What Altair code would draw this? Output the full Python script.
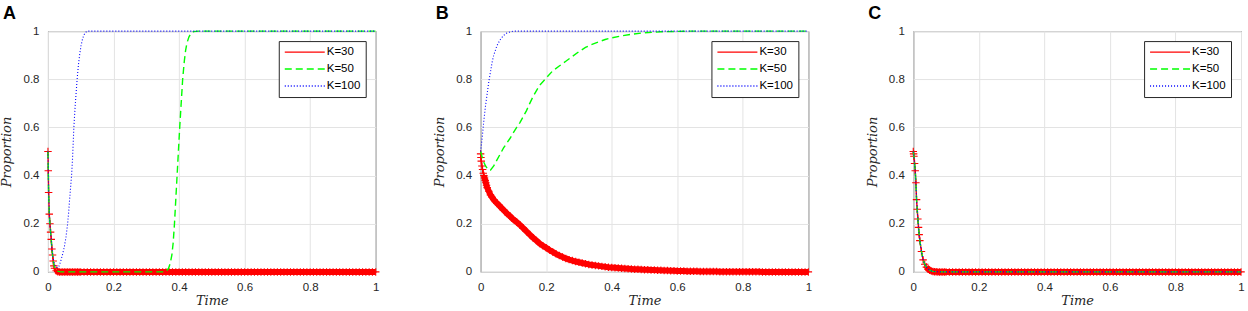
import altair as alt
import pandas as pd

# ---------------- data ----------------
KS = ["K=30", "K=50", "K=100"]
COLORS = ["#ff0000", "#00ff00", "#0000ff"]
DASHES = [[1, 0], [7, 4], [1, 2]]
TICKS = [0, 0.2, 0.4, 0.6, 0.8, 1]

# time points of the K=30 series (one marker per point)
T_RED = [
    0.000, 0.001, 0.002, 0.004, 0.006, 0.008, 0.010, 0.012, 0.014, 0.016,
    0.018, 0.020, 0.025, 0.030, 0.035, 0.040, 0.045, 0.050, 0.055, 0.060,
    0.065, 0.070, 0.075, 0.080, 0.085, 0.090, 0.095, 0.100,
    0.11, 0.12, 0.13, 0.14, 0.15, 0.16, 0.17, 0.18, 0.19, 0.20,
    0.21, 0.22, 0.23, 0.24, 0.25, 0.26, 0.27, 0.28, 0.29, 0.30,
    0.31, 0.32, 0.33, 0.34, 0.35, 0.36, 0.37, 0.38, 0.39, 0.40,
    0.41, 0.42, 0.43, 0.44, 0.45, 0.46, 0.47, 0.48, 0.49, 0.50,
    0.51, 0.52, 0.53, 0.54, 0.55, 0.56, 0.57, 0.58, 0.59, 0.60,
    0.61, 0.62, 0.63, 0.64, 0.65, 0.66, 0.67, 0.68, 0.69, 0.70,
    0.71, 0.72, 0.73, 0.74, 0.75, 0.76, 0.77, 0.78, 0.79, 0.80,
    0.81, 0.82, 0.83, 0.84, 0.85, 0.86, 0.87, 0.88, 0.89, 0.90,
    0.91, 0.92, 0.93, 0.94, 0.95, 0.96, 0.97, 0.98, 0.99, 1.00,
]

A_K30 = [
    0.500, 0.420, 0.330, 0.240, 0.200, 0.165, 0.135, 0.095, 0.070, 0.045,
    0.025, 0.015, 0.005, 0.001, 0, 0, 0, 0, 0, 0,
    0, 0, 0, 0, 0, 0, 0, 0,
    0, 0, 0, 0, 0, 0, 0, 0, 0, 0,
    0, 0, 0, 0, 0, 0, 0, 0, 0, 0,
    0, 0, 0, 0, 0, 0, 0, 0, 0, 0,
    0, 0, 0, 0, 0, 0, 0, 0, 0, 0,
    0, 0, 0, 0, 0, 0, 0, 0, 0, 0,
    0, 0, 0, 0, 0, 0, 0, 0, 0, 0,
    0, 0, 0, 0, 0, 0, 0, 0, 0, 0,
    0, 0, 0, 0, 0, 0, 0, 0, 0, 0,
    0, 0, 0, 0, 0, 0, 0, 0, 0, 0,
]
B_K30 = [
    0.490, 0.475, 0.460, 0.440, 0.425, 0.410, 0.400, 0.390, 0.380, 0.370,
    0.360, 0.350, 0.335, 0.320, 0.310, 0.300, 0.292, 0.285, 0.278, 0.271,
    0.264, 0.257, 0.250, 0.243, 0.237, 0.231, 0.224, 0.218,
    0.207, 0.195, 0.182, 0.168, 0.155, 0.142, 0.130, 0.118, 0.109, 0.100,
    0.091, 0.083, 0.075, 0.068, 0.062, 0.056, 0.051, 0.047, 0.043, 0.040,
    0.037, 0.034, 0.031, 0.029, 0.027, 0.025, 0.023, 0.021, 0.019, 0.018,
    0.017, 0.016, 0.015, 0.014, 0.013, 0.012, 0.011, 0.011, 0.010, 0.009,
    0.009, 0.008, 0.008, 0.007, 0.007, 0.006, 0.006, 0.005, 0.005, 0.004,
    0.004, 0.004, 0.003, 0.003, 0.003, 0.003, 0.002, 0.002, 0.002, 0.002,
    0.002, 0.002, 0.001, 0.001, 0.001, 0.001, 0.001, 0.001, 0.001, 0.001,
    0.001, 0.001, 0.001, 0.001, 0.001, 0, 0, 0, 0, 0,
    0, 0, 0, 0, 0, 0, 0, 0, 0, 0,
]
C_K30 = [
    0.500, 0.490, 0.480, 0.450, 0.420, 0.370, 0.300, 0.260, 0.220, 0.185,
    0.155, 0.130, 0.085, 0.050, 0.032, 0.020, 0.012, 0.007, 0.004, 0.002,
    0.001, 0.001, 0, 0, 0, 0, 0, 0,
    0, 0, 0, 0, 0, 0, 0, 0, 0, 0,
    0, 0, 0, 0, 0, 0, 0, 0, 0, 0,
    0, 0, 0, 0, 0, 0, 0, 0, 0, 0,
    0, 0, 0, 0, 0, 0, 0, 0, 0, 0,
    0, 0, 0, 0, 0, 0, 0, 0, 0, 0,
    0, 0, 0, 0, 0, 0, 0, 0, 0, 0,
    0, 0, 0, 0, 0, 0, 0, 0, 0, 0,
    0, 0, 0, 0, 0, 0, 0, 0, 0, 0,
    0, 0, 0, 0, 0, 0, 0, 0, 0, 0,
]
# time from which the K=30 markers merge into a solid band
BAND_START = {"A": 0.025, "B": 0.010, "C": 0.040}

# K=50 series
A_K50_T = [0, 0.001, 0.002, 0.004, 0.006, 0.008, 0.010, 0.012, 0.014, 0.016,
           0.018, 0.020, 0.025, 0.030, 0.035, 0.040, 0.355, 0.362, 0.368, 0.373,
           0.378, 0.382, 0.386, 0.390, 0.394, 0.398, 0.402, 0.406, 0.411, 0.416,
           0.420, 0.424, 0.430, 0.436, 0.444, 0.460, 1.0]
A_K50_P = [0.500, 0.420, 0.330, 0.240, 0.200, 0.165, 0.135, 0.095, 0.070, 0.045,
           0.030, 0.020, 0.008, 0.003, 0.001, 0, 0, 0.005, 0.015, 0.035,
           0.070, 0.120, 0.200, 0.300, 0.400, 0.500, 0.600, 0.690, 0.800, 0.875,
           0.920, 0.950, 0.975, 0.990, 0.998, 1, 1]
B_K50_T = [0, 0.005, 0.010, 0.015, 0.020, 0.025, 0.030, 0.040, 0.050, 0.060,
           0.070, 0.080, 0.090, 0.100, 0.110, 0.120, 0.130, 0.140, 0.150, 0.160,
           0.170, 0.180, 0.190, 0.200, 0.220, 0.240, 0.260, 0.280, 0.300, 0.320,
           0.340, 0.360, 0.380, 0.400, 0.430, 0.460, 0.500, 0.550, 0.600, 0.650, 1.0]
B_K50_P = [0.500, 0.475, 0.455, 0.440, 0.430, 0.424, 0.422, 0.440, 0.465, 0.490,
           0.515, 0.535, 0.555, 0.578, 0.600, 0.620, 0.645, 0.670, 0.700, 0.728,
           0.752, 0.775, 0.790, 0.805, 0.835, 0.855, 0.875, 0.895, 0.915, 0.932,
           0.945, 0.955, 0.965, 0.972, 0.980, 0.987, 0.993, 0.997, 0.999, 1, 1]
C_K50_T = [0, 0.002, 0.004, 0.006, 0.008, 0.010, 0.012, 0.014, 0.016, 0.018,
           0.020, 0.025, 0.030, 0.035, 0.040, 0.045, 0.050, 0.055, 0.060, 0.070,
           0.080, 1.0]
C_K50_P = [0.500, 0.480, 0.450, 0.420, 0.370, 0.300, 0.260, 0.220, 0.185, 0.155,
           0.130, 0.085, 0.050, 0.032, 0.020, 0.012, 0.007, 0.004, 0.002, 0.001,
           0, 0]

# K=100 series
A_K100_T = [0, 0.001, 0.002, 0.004, 0.006, 0.008, 0.010, 0.012, 0.014, 0.016,
            0.018, 0.020, 0.025, 0.030, 0.035, 0.040, 0.045, 0.050, 0.055, 0.060,
            0.063, 0.066, 0.069, 0.072, 0.075, 0.079, 0.083, 0.086, 0.089, 0.093,
            0.097, 0.101, 0.106, 0.110, 0.115, 0.120, 1.0]
A_K100_P = [0.500, 0.420, 0.340, 0.250, 0.200, 0.165, 0.135, 0.100, 0.075, 0.055,
            0.040, 0.030, 0.020, 0.017, 0.027, 0.050, 0.075, 0.105, 0.145, 0.200,
            0.245, 0.300, 0.350, 0.400, 0.470, 0.600, 0.690, 0.745, 0.800, 0.860,
            0.905, 0.940, 0.970, 0.985, 0.995, 1, 1]
B_K100_T = [0, 0.005, 0.010, 0.015, 0.020, 0.025, 0.030, 0.035, 0.040, 0.050,
            0.060, 0.070, 0.080, 0.090, 0.100, 1.0]
B_K100_P = [0.500, 0.560, 0.630, 0.690, 0.740, 0.790, 0.830, 0.870, 0.900, 0.940,
            0.965, 0.982, 0.992, 0.997, 1, 1]
C_K100_T = [0, 0.002, 0.004, 0.006, 0.008, 0.010, 0.012, 0.014, 0.016, 0.018,
            0.020, 0.025, 0.030, 0.035, 0.040, 0.045, 0.050, 0.055, 0.060, 0.070,
            0.080, 1.0]
C_K100_P = [0.500, 0.480, 0.450, 0.420, 0.370, 0.300, 0.260, 0.220, 0.185, 0.155,
            0.130, 0.085, 0.050, 0.032, 0.020, 0.012, 0.007, 0.004, 0.002, 0.001,
            0, 0]

PANELS = [
    ("A", A_K30, A_K50_T, A_K50_P, A_K100_T, A_K100_P),
    ("B", B_K30, B_K50_T, B_K50_P, B_K100_T, B_K100_P),
    ("C", C_K30, C_K50_T, C_K50_P, C_K100_T, C_K100_P),
]

# ---------------- styling ----------------
LABEL_FONT = "Liberation Sans"
TITLE_FONT = "DejaVu Serif"
PLUS = "M-1,0L1,0M0,-1L0,1"
LEG_LINE = "M-1,0L7,0"


def make_legend():
    return alt.Legend(
        title=None,
        orient="top-right",
        offset=10,
        padding=5,
        fillColor="white",
        strokeColor="#262626",
        labelFont=LABEL_FONT,
        labelFontSize=11.5,
        labelColor="black",
        rowPadding=5,
        symbolType=LEG_LINE,
        symbolSize=100,
        symbolStrokeWidth=1.4,
        labelOffset=31,
    )


def x_enc():
    return alt.X(
        "t:Q",
        scale=alt.Scale(domain=[0, 1], nice=False, zero=False),
        axis=alt.Axis(
            values=TICKS, format="~g", title="Time", grid=True, ticks=False,
            domain=False, labelFlush=False, labelOverlap=False,
            labelPadding=10, titleY=29, titleBaseline="middle",
        ),
    )


def y_enc():
    return alt.Y(
        "p:Q",
        scale=alt.Scale(domain=[0, 1], nice=False, zero=False),
        axis=alt.Axis(
            values=TICKS, format="~g", title="Proportion", grid=True, ticks=False,
            domain=False, labelFlush=False, labelOverlap=False,
            labelPadding=9, titlePadding=9, minExtent=25, maxExtent=25,
        ),
    )


def panel(letter, red_p, g_t, g_p, b_t, b_p):
    red_df = pd.DataFrame({"t": T_RED, "p": red_p, "K": KS[0]})
    green_df = pd.DataFrame({"t": g_t, "p": g_p, "K": KS[1]})
    blue_df = pd.DataFrame({"t": b_t, "p": b_p, "K": KS[2]})

    color = alt.Color("K:N", scale=alt.Scale(domain=KS, range=COLORS), legend=make_legend())
    dash = alt.StrokeDash("K:N", scale=alt.Scale(domain=KS, range=DASHES), legend=make_legend())

    red_line = alt.Chart(red_df).mark_line(strokeWidth=1.4).encode(
        x=x_enc(), y=y_enc(), color=color, strokeDash=dash)
    red_band = alt.Chart(red_df).transform_filter(
        alt.datum.t >= BAND_START[letter]
    ).mark_line(
        strokeWidth=6, color="#ff0000", strokeCap="butt", strokeJoin="round", clip=False
    ).encode(x="t:Q", y="p:Q")
    red_pts = alt.Chart(red_df).mark_point(
        shape=PLUS, size=56, strokeWidth=1.1, color="#ff0000", opacity=1, filled=False, clip=False
    ).encode(x="t:Q", y="p:Q")
    green_line = alt.Chart(green_df).mark_line(strokeWidth=1.4).encode(
        x="t:Q", y="p:Q", color=color, strokeDash=dash)
    blue_line = alt.Chart(blue_df).mark_line(strokeWidth=1.1).encode(
        x="t:Q", y="p:Q", color=color, strokeDash=dash)

    return alt.layer(red_line, red_band, red_pts, green_line, blue_line).properties(
        width=328,
        height=241,
        title=alt.TitleParams(
            text=letter, anchor="start", frame="bounds", fontSize=18,
            font=LABEL_FONT, fontWeight="bold", color="black", offset=2, dx=2,
        ),
    )


charts = [panel(*p) for p in PANELS]

chart = (
    alt.hconcat(*charts, spacing=50)
    .resolve_scale(color="independent", strokeDash="independent")
    .properties(padding={"left": 0, "top": 4, "right": 0, "bottom": 0})
    .configure_view(stroke="#404040", strokeWidth=1)
    .configure_axis(
        labelFont=LABEL_FONT, labelFontSize=11.5, labelColor="#262626",
        titleFont=TITLE_FONT, titleFontSize=13, titleFontStyle="italic",
        titleFontWeight="normal", titleColor="#262626",
        gridColor="#e3e3e3", gridWidth=1,
    )
    .configure_axisY(labelAlign="right")
)

chart.save("out.html", embed_options={"renderer": "svg", "actions": False})
